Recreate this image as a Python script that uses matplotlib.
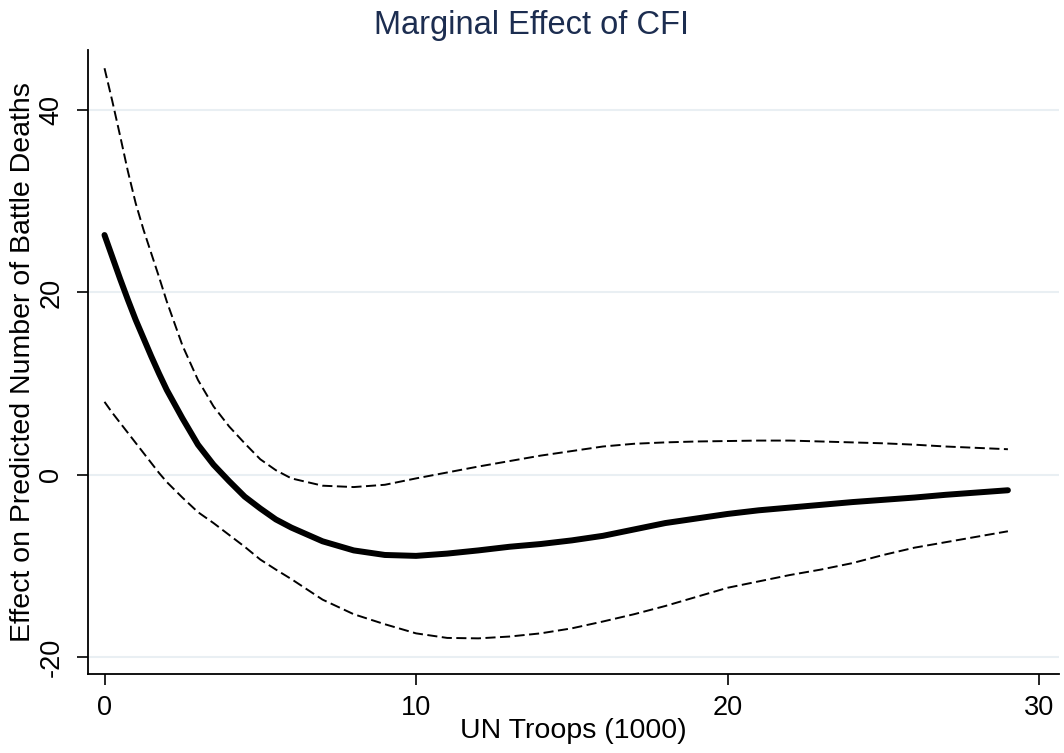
import matplotlib
matplotlib.use("Agg")
import matplotlib.pyplot as plt

plt.rcParams['font.family'] = ['Liberation Sans', 'DejaVu Sans']

# Data
troops = [0, 0.25, 0.5, 0.75, 1, 1.25, 1.5, 1.75, 2, 2.5, 3, 3.5, 4, 4.5, 5,
          5.5, 6, 7, 8, 9, 10, 11, 12, 13, 14, 15, 16, 17, 18, 19, 20, 21, 22,
          23, 24, 25, 26, 27, 28, 29]
effect = [26.3, 23.9, 21.5, 19.2, 17.0, 15.0, 13.0, 11.1, 9.3, 6.2, 3.3, 1.1,
          -0.7, -2.4, -3.7, -4.9, -5.8, -7.3, -8.3, -8.8, -8.9, -8.65, -8.3,
          -7.9, -7.6, -7.2, -6.7, -6.0, -5.3, -4.8, -4.3, -3.9, -3.6, -3.3,
          -3.0, -2.75, -2.5, -2.2, -1.95, -1.7]
upper = [44.6, 41.0, 37.2, 33.3, 29.8, 26.9, 24.3, 21.7, 19.0, 14.2, 10.4, 7.5,
         5.3, 3.45, 1.7, 0.5, -0.4, -1.2, -1.35, -1.1, -0.4, 0.25, 0.9, 1.5,
         2.1, 2.6, 3.1, 3.4, 3.55, 3.65, 3.7, 3.75, 3.75, 3.65, 3.55, 3.45,
         3.3, 3.1, 2.95, 2.8]
lower = [8.0, 6.8, 5.7, 4.6, 3.5, 2.4, 1.3, 0.2, -0.8, -2.5, -4.1, -5.3, -6.6,
         -7.9, -9.3, -10.4, -11.45, -13.7, -15.3, -16.4, -17.4, -17.9, -17.95,
         -17.75, -17.4, -16.85, -16.1, -15.3, -14.4, -13.4, -12.4, -11.7,
         -11.0, -10.4, -9.7, -8.8, -8.0, -7.4, -6.8, -6.2]

xticks = [0, 10, 20, 30]
yticks = [-20, 0, 20, 40]

fig = plt.figure(figsize=(10.64, 7.53), dpi=100)
ax = fig.add_axes([0.0827, 0.1049, 0.9126, 0.8287])

for yv in yticks:
    ax.axhline(yv, color='#e9eff3', lw=1.5, zorder=0)

ax.plot(troops, upper, color='black', lw=1.4, ls=(0, (5.2, 2.3)))
ax.plot(troops, lower, color='black', lw=1.4, ls=(0, (5.2, 2.3)))
ax.plot(troops, effect, color='black', lw=4.3, solid_capstyle='round',
        solid_joinstyle='round')

ax.set_xlim(-0.53, 30.64)
ax.set_ylim(-21.86, 46.6)
ax.set_xticks(xticks)
ax.set_yticks(yticks)
ax.set_xticklabels([str(v) for v in xticks], fontsize=19.5)
ax.set_yticklabels([str(v) for v in yticks], fontsize=19.5, rotation=90,
                   va='center')
ax.tick_params(axis='both', length=8, width=1.2, color='black')
ax.tick_params(axis='x', pad=7)
ax.tick_params(axis='y', pad=9)

for s in ['top', 'right']:
    ax.spines[s].set_visible(False)
for s in ['left', 'bottom']:
    ax.spines[s].set_linewidth(1.3)

ax.set_xlabel('UN Troops (1000)', fontsize=20.5, labelpad=-2)
ax.set_ylabel('Effect on Predicted Number of Battle Deaths', fontsize=20.5,
              labelpad=2)
fig.text(0.5, 0.966, 'Marginal Effect of CFI', ha='center', va='center',
         fontsize=23.5, color='#1c2d50')

fig.savefig('out.png', dpi=100)
